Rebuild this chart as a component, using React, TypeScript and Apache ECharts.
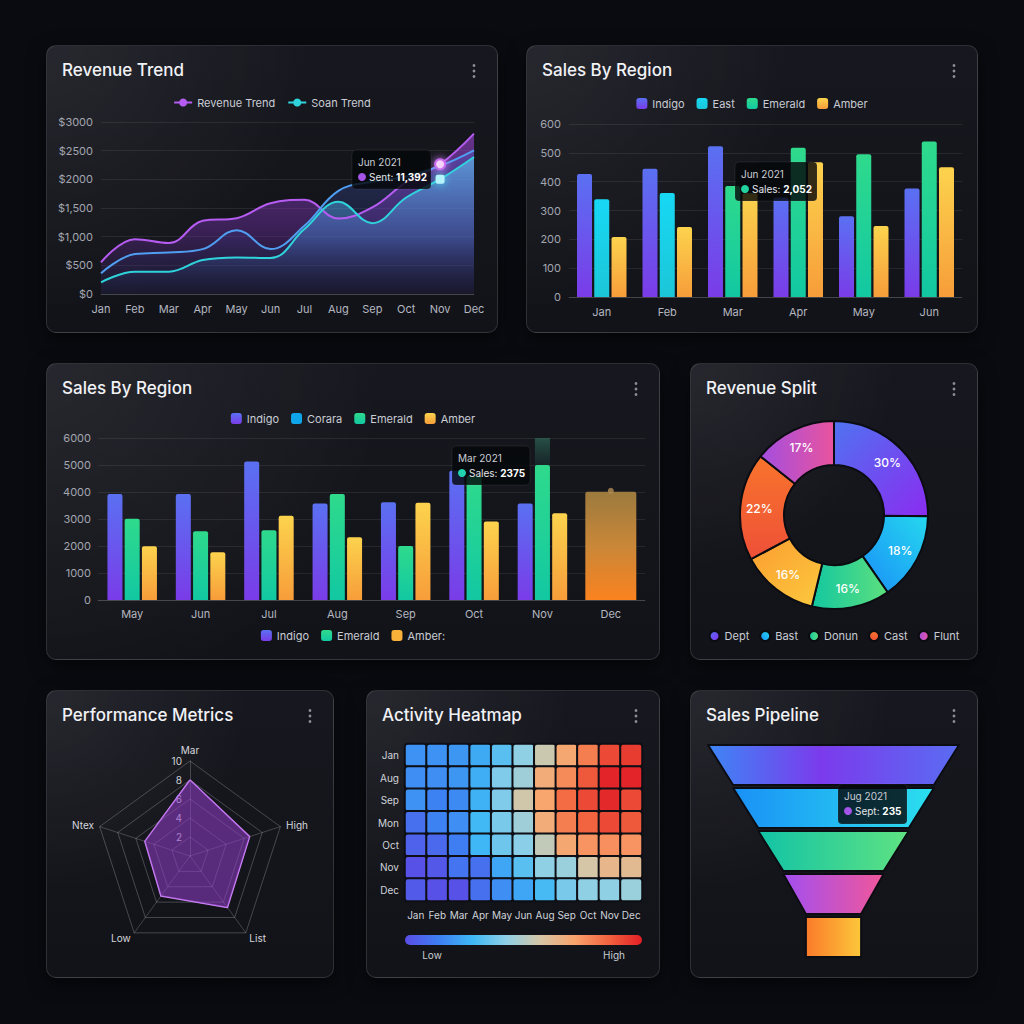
import React, { useEffect, useRef } from 'react';
import * as echarts from 'echarts';

const FONT = 'Inter, "Noto Sans", sans-serif';

// ---------- Data ----------
const months12 = ['Jan', 'Feb', 'Mar', 'Apr', 'May', 'Jun', 'Jul', 'Aug', 'Sep', 'Oct', 'Nov', 'Dec'];
const revenueTrend = [551, 957, 888, 1277, 1323, 1584, 1642, 1317, 1509, 1950, 2263, 2797];
const forecastTrend = [360, 696, 725, 783, 1114, 783, 1190, 1799, 1960, 2050, 2234, 2507];
const soanTrend = [203, 389, 389, 592, 638, 627, 1132, 1607, 1236, 1683, 2002, 2390];
const revenueTicks = ['$0', '$500', '$1,000', '$1,500', '$2000', '$2500', '$3000'];

const regionMonthsA = ['Jan', 'Feb', 'Mar', 'Apr', 'May', 'Jun'];
const indigoA = [427, 445, 523, 345, 280, 376];
const eastA = [339, 361, '-', '-', '-', '-'];
const emeraldA = ['-', '-', 385, 518, 495, 539];
const amberA = [208, 243, 360, 467, 246, 450];

const regionMonthsB = ['May', 'Jun', 'Jul', 'Aug', 'Sep', 'Oct', 'Nov', 'Dec'];
const indigoB = [3922, 3922, 5134, 3575, 3625, 4788, 3575, '-'];
const emeraldB = [3006, 2548, 2586, 3922, 2004, 4600, 4998, '-'];
const amberB = [1992, 1769, 3118, 2326, 3600, 2907, 3216, '-'];
const decTotalB = ['-', '-', '-', '-', '-', '-', '-', 4008];
const novHighlightB = ['-', '-', '-', '-', '-', '-', 1002, '-'];

const splitNames = ['Dept', 'Bast', 'Donun', 'Amber', 'Cast', 'Flunt'];
const splitValues = [30, 18, 16, 16, 22, 17];
const splitLegend = ['Dept', 'Bast', 'Donun', 'Cast', 'Flunt'];

const radarIndicators = ['Mar', 'Ntex', 'Low', 'List', 'High'];
const radarValues = [8.0, 5.0, 5.2, 6.7, 6.6];
const radarMax = 10;

const heatCols = ['Jan', 'Feb', 'Mar', 'Apr', 'May', 'Jun', 'Aug', 'Sep', 'Oct', 'Nov', 'Dec'];
const heatRows = ['Jan', 'Aug', 'Sep', 'Mon', 'Oct', 'Nov', 'Dec'];
const heatValues = [
  [19, 19, 20, 25, 33, 43, 55, 70, 80, 91, 94],
  [18, 18, 20, 26, 40, 46, 68, 77, 88, 99, 99],
  [19, 15, 17, 27, 40, 56, 71, 84, 91, 98, 91],
  [10, 15, 18, 29, 39, 46, 68, 80, 86, 91, 88],
  [6, 8, 14, 28, 37, 42, 53, 70, 75, 76, 75],
  [1, 3, 11, 10, 24, 33, 43, 45, 57, 64, 62],
  [4, 1, 1, 10, 18, 24, 30, 39, 43, 43, 45],
];
const heatColors = ['#5a4de6', '#3d7ff2', '#3fb8f5', '#8fd0e6', '#d6c6a6', '#f9a46c', '#f2643f', '#e21f26'];

const pipelineStages = ['Leads', 'Prospects', 'Proposals', 'Negotiation', 'Closed'];
const pipelineValues = [100, 80, 60, 40, 22];

// ---------- Helpers ----------
const lin = (x: number, y: number, x2: number, y2: number, stops: [number, string][]) => ({
  type: 'linear', x, y, x2, y2,
  colorStops: stops.map(([offset, color]) => ({ offset, color })),
});
const vgrad = (top: string, bottom: string) => lin(0, 0, 0, 1, [[0, top], [1, bottom]]);

const titleOf = (text: string) => ({
  text, left: 16, top: 16, padding: 0,
  textStyle: { color: '#f1f2f6', fontSize: 17, fontWeight: 500, fontFamily: FONT },
});

const dots = (w: number) => [20.5, 26, 31.5].map((cy) => ({
  type: 'circle', shape: { cx: w - 24, cy, r: 1.4 }, style: { fill: '#8b8e98' }, silent: true,
}));

const tipBox = (x: number, y: number, w: number, h: number, head: string, dot: string, label: string, value: string) => ({
  type: 'group', x, y, z: 100,
  children: [
    { type: 'rect', z: 100, shape: { x: 0, y: 0, width: w, height: h, r: 4 }, style: { fill: 'rgba(5,7,10,0.82)', stroke: 'rgba(255,255,255,0.07)', lineWidth: 1 } },
    { type: 'text', z: 101, x: 6, y: 12, style: { text: head, fill: '#c9ccd4', font: `10px ${FONT}`, textVerticalAlign: 'middle' } },
    { type: 'circle', z: 101, shape: { cx: 10, cy: 27, r: 4 }, style: { fill: dot } },
    {
      type: 'text', z: 101, x: 17, y: 27,
      style: {
        text: `{a|${label}: }{b|${value}}`, textVerticalAlign: 'middle',
        rich: {
          a: { fill: '#e3e5ea', fontSize: 10, fontFamily: FONT },
          b: { fill: '#ffffff', fontSize: 10, fontFamily: FONT, fontWeight: 'bold' },
        },
      },
    },
  ],
});

const axisLabelStyle = { color: '#a3a6b0', fontSize: 11, fontFamily: FONT };
const splitLineStyle = { lineStyle: { color: 'rgba(255,255,255,0.08)' } };

// ---------- Options ----------
const optRevenue = {
  animation: false,
  title: titleOf('Revenue Trend'),
  legend: {
    data: ['Revenue Trend', 'Soan Trend'], top: 52, left: 'center', padding: 0,
    itemWidth: 18, itemHeight: 10, itemGap: 12,
    textStyle: { color: '#c9ccd4', fontSize: 11, fontFamily: FONT },
  },
  grid: { left: 55, right: 24, top: 77, bottom: 39 },
  xAxis: {
    type: 'category', data: months12, boundaryGap: false,
    axisLine: { lineStyle: { color: 'rgba(255,255,255,0.15)' } }, axisTick: { show: false },
    axisLabel: { ...axisLabelStyle, color: '#b4b7c0', margin: 9 },
  },
  yAxis: {
    type: 'value', min: 0, max: 3000, interval: 500,
    axisLabel: { ...axisLabelStyle, margin: 8, formatter: (v: number) => revenueTicks[Math.round(v / 500)] },
    splitLine: splitLineStyle,
  },
  series: [
    {
      name: 'Revenue Trend', type: 'line', data: revenueTrend, smooth: 0.4, symbol: 'circle', showSymbol: false,
      lineStyle: { color: '#b65cf2', width: 2 }, itemStyle: { color: '#b65cf2' },
      areaStyle: { color: lin(0, 0, 0, 1, [[0, 'rgba(170,75,230,0.8)'], [0.6, 'rgba(120,50,180,0.55)'], [1, 'rgba(60,30,110,0.15)']]) },
      markPoint: {
        symbol: 'circle', symbolSize: 10, label: { show: false },
        itemStyle: { color: '#f6d2fc', borderColor: '#c96cf0', borderWidth: 2, shadowBlur: 8, shadowColor: '#d080ff' },
        data: [{ coord: [months12[10], revenueTrend[10]] }],
      },
    },
    {
      name: 'Forecast', type: 'line', data: forecastTrend, smooth: 0.4, symbol: 'none',
      lineStyle: { color: '#4f9ef2', width: 2 }, itemStyle: { color: '#4f9ef2' },
      areaStyle: { color: vgrad('rgba(80,110,235,0.45)', 'rgba(40,50,120,0.08)') },
    },
    {
      name: 'Soan Trend', type: 'line', data: soanTrend, smooth: 0.4, symbol: 'circle', showSymbol: false,
      lineStyle: { color: '#2fd3dc', width: 2 }, itemStyle: { color: '#2fd3dc' },
      areaStyle: { color: lin(0, 0, 0, 1, [[0, 'rgba(95,205,250,0.85)'], [0.6, 'rgba(70,140,220,0.5)'], [1, 'rgba(40,60,130,0.08)']]) },
      markPoint: {
        symbol: 'roundRect', symbolSize: 9, label: { show: false },
        itemStyle: { color: '#b4f3fb', shadowBlur: 8, shadowColor: '#40e0f0' },
        data: [{ coord: [months12[10], soanTrend[10]] }],
      },
    },
  ],
  graphic: [...dots(452), tipBox(306, 105, 79, 39, 'Jun 2021', '#a455e8', 'Sent', '11,392')],
};

const barGrad = {
  indigo: vgrad('#5a70f2', '#7a3ce8'),
  east: vgrad('#17d8f4', '#1cc6d8'),
  emerald: vgrad('#2fda8c', '#12c8a2'),
  amber: vgrad('#fcd34d', '#f79d3a'),
};

const optRegionA = {
  animation: false,
  title: titleOf('Sales By Region'),
  legend: {
    data: ['Indigo', 'East', 'Emerald', 'Amber'], top: 53, left: 'center', padding: 0,
    icon: 'roundRect', itemWidth: 11, itemHeight: 11, itemGap: 12,
    textStyle: { color: '#c9ccd4', fontSize: 11, fontFamily: FONT },
  },
  grid: { left: 43, right: 16, top: 79, bottom: 36 },
  xAxis: {
    type: 'category', data: regionMonthsA,
    axisLine: { lineStyle: { color: 'rgba(255,255,255,0.15)' } }, axisTick: { show: false },
    axisLabel: { ...axisLabelStyle, color: '#b4b7c0', margin: 9 },
  },
  yAxis: {
    type: 'value', min: 0, max: 600, interval: 100,
    axisLabel: { ...axisLabelStyle, margin: 8 }, splitLine: splitLineStyle,
  },
  series: [
    { name: 'Indigo', type: 'bar', data: indigoA, barWidth: 15, barGap: '15%', itemStyle: { color: barGrad.indigo, borderRadius: [2, 2, 0, 0] } },
    { name: 'East', type: 'bar', stack: 'mid', data: eastA, barWidth: 15, barGap: '15%', itemStyle: { color: barGrad.east, borderRadius: [2, 2, 0, 0] } },
    { name: 'Emerald', type: 'bar', stack: 'mid', data: emeraldA, barWidth: 15, barGap: '15%', itemStyle: { color: barGrad.emerald, borderRadius: [2, 2, 0, 0] } },
    { name: 'Amber', type: 'bar', data: amberA, barWidth: 15, barGap: '15%', itemStyle: { color: barGrad.amber, borderRadius: [2, 2, 0, 0] } },
  ],
  graphic: [...dots(452), tipBox(209, 117, 82, 39, 'Jun 2021', '#22d3a0', 'Sales', '2,052')],
};

const optRegionB = {
  animation: false,
  title: titleOf('Sales By Region'),
  legend: [
    {
      data: ['Indigo', 'Corara', 'Emerald', 'Amber'], top: 50, left: 'center', padding: 0,
      icon: 'roundRect', itemWidth: 11, itemHeight: 11, itemGap: 12,
      textStyle: { color: '#c9ccd4', fontSize: 11, fontFamily: FONT },
    },
    {
      data: ['Indigo', 'Emerald', 'Amber:'], top: 267, left: 'center', padding: 0,
      icon: 'roundRect', itemWidth: 11, itemHeight: 11, itemGap: 12,
      textStyle: { color: '#c9ccd4', fontSize: 11, fontFamily: FONT },
    },
  ],
  grid: { left: 52, right: 15, top: 75, bottom: 60 },
  xAxis: [
    {
      type: 'category', data: regionMonthsB,
      axisLine: { lineStyle: { color: 'rgba(255,255,255,0.15)' } }, axisTick: { show: false },
      axisLabel: { ...axisLabelStyle, color: '#b4b7c0', margin: 8 },
    },
    { type: 'category', data: regionMonthsB, show: false },
  ],
  yAxis: {
    type: 'value', min: 0, max: 6000, interval: 1000,
    axisLabel: { ...axisLabelStyle, margin: 7, formatter: (v: number) => String(v) }, splitLine: splitLineStyle,
  },
  series: [
    { name: 'Indigo', type: 'bar', data: indigoB, barWidth: 15, barGap: '15%', itemStyle: { color: barGrad.indigo, borderRadius: [2, 2, 0, 0] } },
    { name: 'Emerald', type: 'bar', stack: 'em', data: emeraldB, barWidth: 15, barGap: '15%', itemStyle: { color: barGrad.emerald, borderRadius: [2, 2, 0, 0] } },
    { name: 'Highlight', type: 'bar', stack: 'em', data: novHighlightB, barWidth: 15, itemStyle: { color: vgrad('rgba(45,100,85,0.75)', 'rgba(30,70,65,0.35)') } },
    { name: 'Amber', type: 'bar', data: amberB, barWidth: 15, barGap: '15%', itemStyle: { color: barGrad.amber, borderRadius: [2, 2, 0, 0] } },
    {
      name: 'Total', type: 'bar', xAxisIndex: 1, data: decTotalB, barWidth: 51,
      itemStyle: { color: lin(0, 0, 0, 1, [[0, '#9c7a3e'], [0.5, '#c98738'], [1, '#fb821f']]), borderRadius: [2, 2, 0, 0] },
    },
    { name: 'TotalDot', type: 'scatter', xAxisIndex: 1, data: decTotalB, symbolSize: 6, symbolOffset: [0, -1], itemStyle: { color: '#b28c52' } },
    { name: 'Corara', type: 'line', data: [], itemStyle: { color: '#0ea5e9' } },
    { name: 'Amber:', type: 'line', data: [], itemStyle: { color: '#f9b13a' } },
  ],
  graphic: [...dots(614), tipBox(406, 83, 78, 39, 'Mar 2021', '#22d3b0', 'Sales', '2375')],
};

const sliceColors = [
  lin(0, 0, 1, 1, [[0, '#4f73f0'], [1, '#8b2cf0']]),
  lin(0, 1, 1, 0, [[0, '#1a8ef8'], [1, '#25d8ee']]),
  lin(0, 0, 1, 0, [[0, '#13c7a0'], [1, '#5de07e']]),
  lin(0, 0, 1, 1, [[0, '#fb9d30'], [1, '#fcc93e']]),
  lin(0, 0, 0, 1, [[0, '#f8742c'], [1, '#ee5038']]),
  lin(0, 0, 1, 0, [[0, '#a34ee0'], [1, '#e9549e']]),
];

const optSplit = {
  animation: false,
  title: titleOf('Revenue Split'),
  legend: {
    data: splitLegend, bottom: 18, left: 'center', padding: 0,
    icon: 'circle', itemWidth: 10, itemHeight: 10, itemGap: 10,
    textStyle: { color: '#c9ccd4', fontSize: 11, fontFamily: FONT },
  },
  series: [{
    type: 'pie', center: [144, 152], radius: [50, 94], startAngle: 90,
    itemStyle: { borderColor: '#0b0c11', borderWidth: 2 },
    label: { show: true, position: 'inside', formatter: '{c}%', color: '#ffffff', fontSize: 12, fontWeight: 500, fontFamily: FONT },
    labelLine: { show: false },
    data: splitNames.map((name, i) => ({ name, value: splitValues[i], itemStyle: { color: sliceColors[i] } })),
  }],
  graphic: [...dots(288)],
};

const optRadar = {
  animation: false,
  title: titleOf('Performance Metrics'),
  radar: {
    center: [144, 166], radius: 95, startAngle: 90, splitNumber: 5, shape: 'polygon',
    nameGap: 6,
    axisName: { color: '#d5d7de', fontSize: 10, fontFamily: FONT },
    splitLine: { lineStyle: { color: 'rgba(255,255,255,0.22)' } },
    splitArea: { show: false },
    axisLine: { lineStyle: { color: 'rgba(255,255,255,0.2)' } },
    axisLabel: { show: false },
    indicator: radarIndicators.map((name, i) => (i === 0
      ? { name, min: 0, max: radarMax, axisLabel: { show: true, color: '#d0d2d8', fontSize: 10, showMinLabel: false, fontFamily: FONT } }
      : { name, min: 0, max: radarMax })),
  },
  series: [{
    type: 'radar', symbol: 'none',
    lineStyle: { color: '#d58cff', width: 1.5 },
    areaStyle: { color: 'rgba(145,60,200,0.8)' },
    data: [{ value: radarValues, name: 'Performance' }],
  }],
  graphic: [...dots(288)],
};

const heatData: number[][] = [];
heatValues.forEach((row, r) => row.forEach((v, c) => heatData.push([c, r, v])));

const optHeat = {
  animation: false,
  title: titleOf('Activity Heatmap'),
  grid: { left: 39, right: 18, top: 54, bottom: 77 },
  xAxis: {
    type: 'category', data: heatCols, axisLine: { show: false }, axisTick: { show: false },
    axisLabel: { color: '#d0d3da', fontSize: 10, fontFamily: FONT, interval: 0, margin: 9 },
    splitArea: { show: false },
  },
  yAxis: {
    type: 'category', data: heatRows, inverse: true, axisLine: { show: false }, axisTick: { show: false },
    axisLabel: { color: '#d0d3da', fontSize: 10, fontFamily: FONT, margin: 6 },
  },
  visualMap: { show: false, min: 0, max: 100, inRange: { color: heatColors } },
  series: [{
    type: 'heatmap', data: heatData,
    itemStyle: { borderColor: '#0e0f15', borderWidth: 2, borderRadius: 3 },
  }],
  graphic: [
    ...dots(294),
    {
      type: 'rect', shape: { x: 39, y: 245, width: 237, height: 10, r: 5 },
      style: { fill: lin(0, 0, 1, 0, heatColors.map((c, i) => [i / (heatColors.length - 1), c] as [number, string])) },
    },
    { type: 'text', x: 66, y: 265, style: { text: 'Low', fill: '#c9ccd4', font: `10px ${FONT}`, textAlign: 'center', textVerticalAlign: 'middle' } },
    { type: 'text', x: 248, y: 265, style: { text: 'High', fill: '#c9ccd4', font: `10px ${FONT}`, textAlign: 'center', textVerticalAlign: 'middle' } },
  ],
};

const funnelColors = [
  lin(0, 0, 1, 0, [[0, '#3d86f5'], [0.45, '#7b3bec'], [1, '#5a6cf2']]),
  lin(0, 0, 1, 0, [[0, '#1a90f6'], [1, '#2be0ee']]),
  lin(0, 0, 1, 0, [[0, '#12c3a6'], [1, '#5fe282']]),
  lin(0, 0, 1, 0, [[0, '#a24ff0'], [1, '#f0579a']]),
  lin(0, 0, 1, 0, [[0, '#fa7a2a'], [1, '#fcc73a']]),
];

const optFunnel = {
  animation: false,
  title: titleOf('Sales Pipeline'),
  series: [{
    type: 'funnel', sort: 'none', left: 18, width: 251, top: 55, height: 255, gap: 3,
    min: 0, max: 100, minSize: '0%', maxSize: '100%', funnelAlign: 'center',
    label: { show: false }, labelLine: { show: false },
    itemStyle: { borderColor: '#0c0d12', borderWidth: 2 },
    data: [
      ...pipelineStages.map((name, i) => ({ name, value: pipelineValues[i], itemStyle: { color: funnelColors[i] } })),
      { name: 'end', value: pipelineValues[pipelineValues.length - 1], itemStyle: { height: 0, opacity: 0, borderWidth: 0 } },
    ],
  }],
  graphic: [...dots(288), tipBox(148, 94, 69, 40, 'Jug 2021', '#a455e8', 'Sept', '235')],
};

// ---------- Components ----------
function Panel({ x, y, w, h, option }: { x: number; y: number; w: number; h: number; option: any }) {
  const ref = useRef<HTMLDivElement>(null);
  useEffect(() => {
    const chart = echarts.init(ref.current as HTMLDivElement, null, { renderer: 'svg' });
    chart.setOption(option);
    return () => chart.dispose();
  }, []);
  return (
    <div
      style={{
        position: 'absolute', left: x, top: y, width: w, height: h, boxSizing: 'border-box',
        borderRadius: 10, border: '1px solid rgba(255,255,255,0.12)',
        background: 'radial-gradient(circle at 0% 0%, rgba(255,255,255,0.07), rgba(255,255,255,0) 50%), linear-gradient(180deg, #17181f, #121318)',
        boxShadow: '0 6px 18px rgba(0,0,0,0.55)',
      }}
    >
      <div ref={ref} style={{ position: 'absolute', left: -1, top: -1, width: w, height: h }} />
    </div>
  );
}

export default function App() {
  return (
    <div style={{ position: 'fixed', left: 0, top: 0, width: 1024, height: 1024, background: '#0a0b10', overflow: 'hidden', fontFamily: FONT }}>
      <Panel x={46} y={45} w={452} h={288} option={optRevenue} />
      <Panel x={526} y={45} w={452} h={288} option={optRegionA} />
      <Panel x={46} y={363} w={614} h={297} option={optRegionB} />
      <Panel x={690} y={363} w={288} h={297} option={optSplit} />
      <Panel x={46} y={690} w={288} h={288} option={optRadar} />
      <Panel x={366} y={690} w={294} h={288} option={optHeat} />
      <Panel x={690} y={690} w={288} h={288} option={optFunnel} />
    </div>
  );
}
